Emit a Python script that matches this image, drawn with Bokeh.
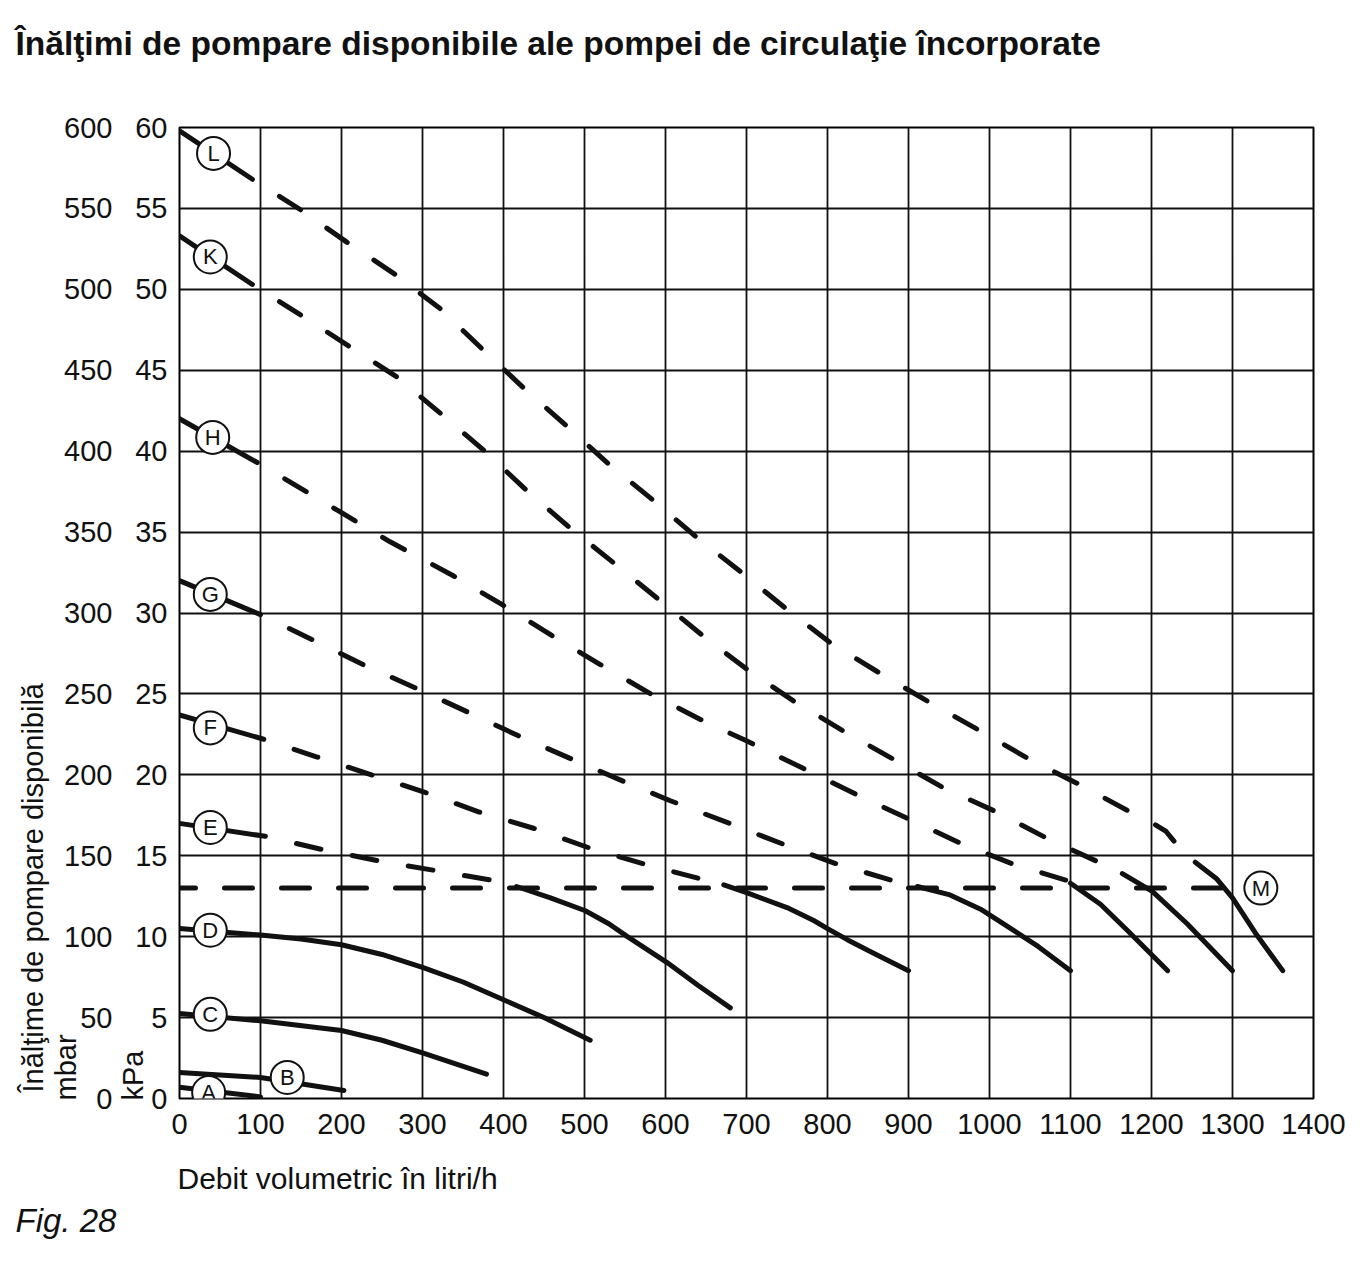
from bokeh.plotting import figure
from bokeh.models import Range1d, LinearAxis, FixedTicker, Grid, Title
from bokeh.core.properties import value
from bokeh.embed import file_html
from bokeh.resources import INLINE

# ---------------- data (flow in l/h, head in mbar) ----------------
flow_ticks = list(range(0, 1500, 100))
mbar_ticks = list(range(0, 650, 50))
kpa_ticks = list(range(0, 65, 5))

A_q = [0, 100]
A_h = [7, 1]
B_q = [0, 100, 203]
B_h = [16, 13, 5]
C_q = [0, 100, 200, 250, 301, 340, 379]
C_h = [52.5, 48, 42, 36, 28, 21.5, 15]
D_q = [0, 100, 150, 200, 250, 300, 350, 400, 450, 507]
D_h = [105, 101, 98.5, 95, 89, 81, 72, 61, 50, 36]

E_q_dash = [0, 106, 175, 244, 314, 384]
E_h_dash = [170, 162, 154, 147, 141, 135]
E_q_solid = [416, 458, 501, 530, 553, 602, 640, 680]
E_h_solid = [131, 124, 116, 108, 100, 84, 70, 56]

F_q_dash = [0, 104, 170, 237, 304, 370, 437, 505, 573, 641]
F_h_dash = [237, 222, 211, 200, 189, 177, 167, 155, 145, 136]
F_q_solid = [672, 701, 750, 783, 800, 825, 860, 900]
F_h_solid = [132, 127, 118, 110, 105, 98, 89, 79]

G_q_dash = [0, 100, 162, 227, 290, 355, 419, 483, 548, 606, 679, 746, 811, 878]
G_h_dash = [320, 299, 284, 268, 254, 239, 224, 210, 196, 184, 170, 157, 145, 135]
G_q_solid = [911, 950, 989, 1014, 1060, 1100]
G_h_solid = [131, 126, 117, 109, 94, 79]

H_q_dash = [0, 96, 200, 260, 338, 399, 460, 520, 582, 644, 700, 770, 835, 899, 963, 1028, 1094]
H_h_dash = [420, 393, 362, 344, 323, 305, 286, 268, 250, 234, 221, 204, 188, 173, 158, 145, 135]
H_q_solid = [1100, 1137, 1170, 1220]
H_h_solid = [133, 120, 104, 79]

K_q_dash = [0, 90, 150, 209, 268, 323, 377, 428, 481, 536, 590, 646, 701, 760, 820, 880, 943, 1009, 1070, 1135]
K_h_dash = [533, 503, 484, 465, 446, 423, 400, 376, 353, 331, 309, 286, 265, 245, 227, 210, 192, 177, 161, 146]
K_q_solid = [1164, 1201, 1244, 1300]
K_h_solid = [139, 128, 108, 79]

L_q_dash = [0, 90, 150, 207, 267, 322, 374, 425, 477, 530, 584, 638, 694, 748, 805, 864, 925, 989, 1048, 1111, 1174, 1202, 1218, 1231]
L_h_dash = [598, 568, 549, 529, 509, 488, 463, 439, 416, 392, 370, 347, 325, 303, 281, 263, 245, 227, 210, 194, 177, 170, 165, 157]
L_q_solid = [1254, 1280, 1300, 1330, 1362]
L_h_solid = [146, 136, 124, 101, 79]

M_q = [0, 1300]
M_h = [130, 130]

label_names = ["A", "B", "C", "D", "E", "F", "G", "H", "K", "L", "M"]
label_q = [36, 133, 38, 38, 38, 38, 38, 41, 38, 42, 1335]
label_h = [3.7, 13, 52, 104, 167.5, 229, 311.5, 408.5, 520, 584, 130]

title_text = "Înălţimi de pompare disponibile ale pompei de circulaţie încorporate"
x_label_text = "Debit volumetric în litri/h"
y_label_text = "Înălţime de pompare disponibilă"
mbar_text = "mbar"
kpa_text = "kPa"
fig_text = "Fig. 28"

# ---------------- figure ----------------
FONT = "Liberation Sans"
COL = "#111111"
p = figure(width=1360, height=1270, x_range=Range1d(0, 1400), y_range=Range1d(0, 600),
           output_backend="svg", toolbar_location=None, y_axis_location=None,
           min_border_left=179, min_border_right=47, min_border_top=127, min_border_bottom=172)
p.extra_y_ranges = {"kpa": Range1d(0, 60)}
p.background_fill_color = "white"
p.border_fill_color = "white"
p.outline_line_color = "black"
p.outline_line_width = 2
p.grid.visible = False

p.add_layout(Grid(dimension=0, ticker=FixedTicker(ticks=flow_ticks), grid_line_color=COL,
                  grid_line_width=1.8))
p.add_layout(Grid(dimension=1, ticker=FixedTicker(ticks=mbar_ticks), grid_line_color=COL,
                  grid_line_width=1.8))


def style_axis(ax, standoff):
    ax.major_tick_out = 0
    ax.major_tick_in = 0
    ax.minor_tick_out = 0
    ax.minor_tick_in = 0
    ax.axis_line_color = None
    ax.major_label_text_font = FONT
    ax.major_label_text_font_size = "29px"
    ax.major_label_text_color = COL
    ax.major_label_standoff = standoff


def side_title(text, size, standoff, style="normal", align="left", offset=0, valign="middle"):
    return Title(text=text, align=align, offset=offset, standoff=standoff,
                 vertical_align=valign, text_font=FONT, text_font_size=size,
                 text_font_style=style, text_color=COL)


xa = p.xaxis[0]
xa.ticker = FixedTicker(ticks=flow_ticks)
style_axis(xa, 15)

kpa_axis = LinearAxis(y_range_name="kpa", ticker=FixedTicker(ticks=kpa_ticks))
style_axis(kpa_axis, 12)
mbar_axis = LinearAxis(ticker=FixedTicker(ticks=mbar_ticks))
style_axis(mbar_axis, 20)

# left side, from the frame outwards
p.add_layout(kpa_axis, "left")
p.add_layout(side_title(kpa_text, "29px", -37, offset=-2), "left")
p.add_layout(mbar_axis, "left")
p.add_layout(side_title(mbar_text, "29px", -40, offset=-2, valign="bottom"), "left")
p.add_layout(side_title(y_label_text, "29px", 23, offset=6), "left")

# top: spacer then the title
p.add_layout(Title(text=" ", text_font_size="1px", standoff=38), "above")
p.add_layout(side_title(title_text, "33.5px", 47, style="bold", offset=-164), "above")

# bottom, below the x axis
p.add_layout(side_title(x_label_text, "30px", 46, offset=-2, valign="bottom"), "below")
p.add_layout(side_title(fig_text, "33px", -42, style="italic", offset=-164, valign="bottom"),
             "below")

LW = 5

# solid-only curves
for q, h in [(A_q, A_h), (B_q, B_h), (C_q, C_h), (D_q, D_h)]:
    p.line(q, h, line_width=LW, line_color=COL, line_cap="round", line_join="round")

# dashed upper parts with a solid lead-in, solid lower parts
for qd, hd, qs, hs in [(E_q_dash, E_h_dash, E_q_solid, E_h_solid),
                       (F_q_dash, F_h_dash, F_q_solid, F_h_solid),
                       (G_q_dash, G_h_dash, G_q_solid, G_h_solid),
                       (H_q_dash, H_h_dash, H_q_solid, H_h_solid),
                       (K_q_dash, K_h_dash, K_q_solid, K_h_solid),
                       (L_q_dash, L_h_dash, L_q_solid, L_h_solid)]:
    p.line(qd[:2], hd[:2], line_width=LW, line_color=COL, line_cap="round")
    p.line(qd[1:], hd[1:], line_width=LW, line_color=COL, line_cap="round", line_join="round",
           line_dash="25 32", line_dash_offset=25)
    p.line(qs, hs, line_width=LW, line_color=COL, line_cap="round", line_join="round")

p.line(M_q, M_h, line_width=LW, line_color=COL, line_cap="round", line_dash="28 29",
       line_dash_offset=12)

# circled letters
p.scatter(label_q, label_h, marker="circle", size=33, fill_color="white", line_color=COL,
          line_width=2)
p.text(label_q, label_h, text=label_names, text_align="center", text_baseline="middle",
       text_font=value(FONT), text_font_size="22px", text_color=COL)

open("out.html", "w").write(file_html(p, INLINE))
